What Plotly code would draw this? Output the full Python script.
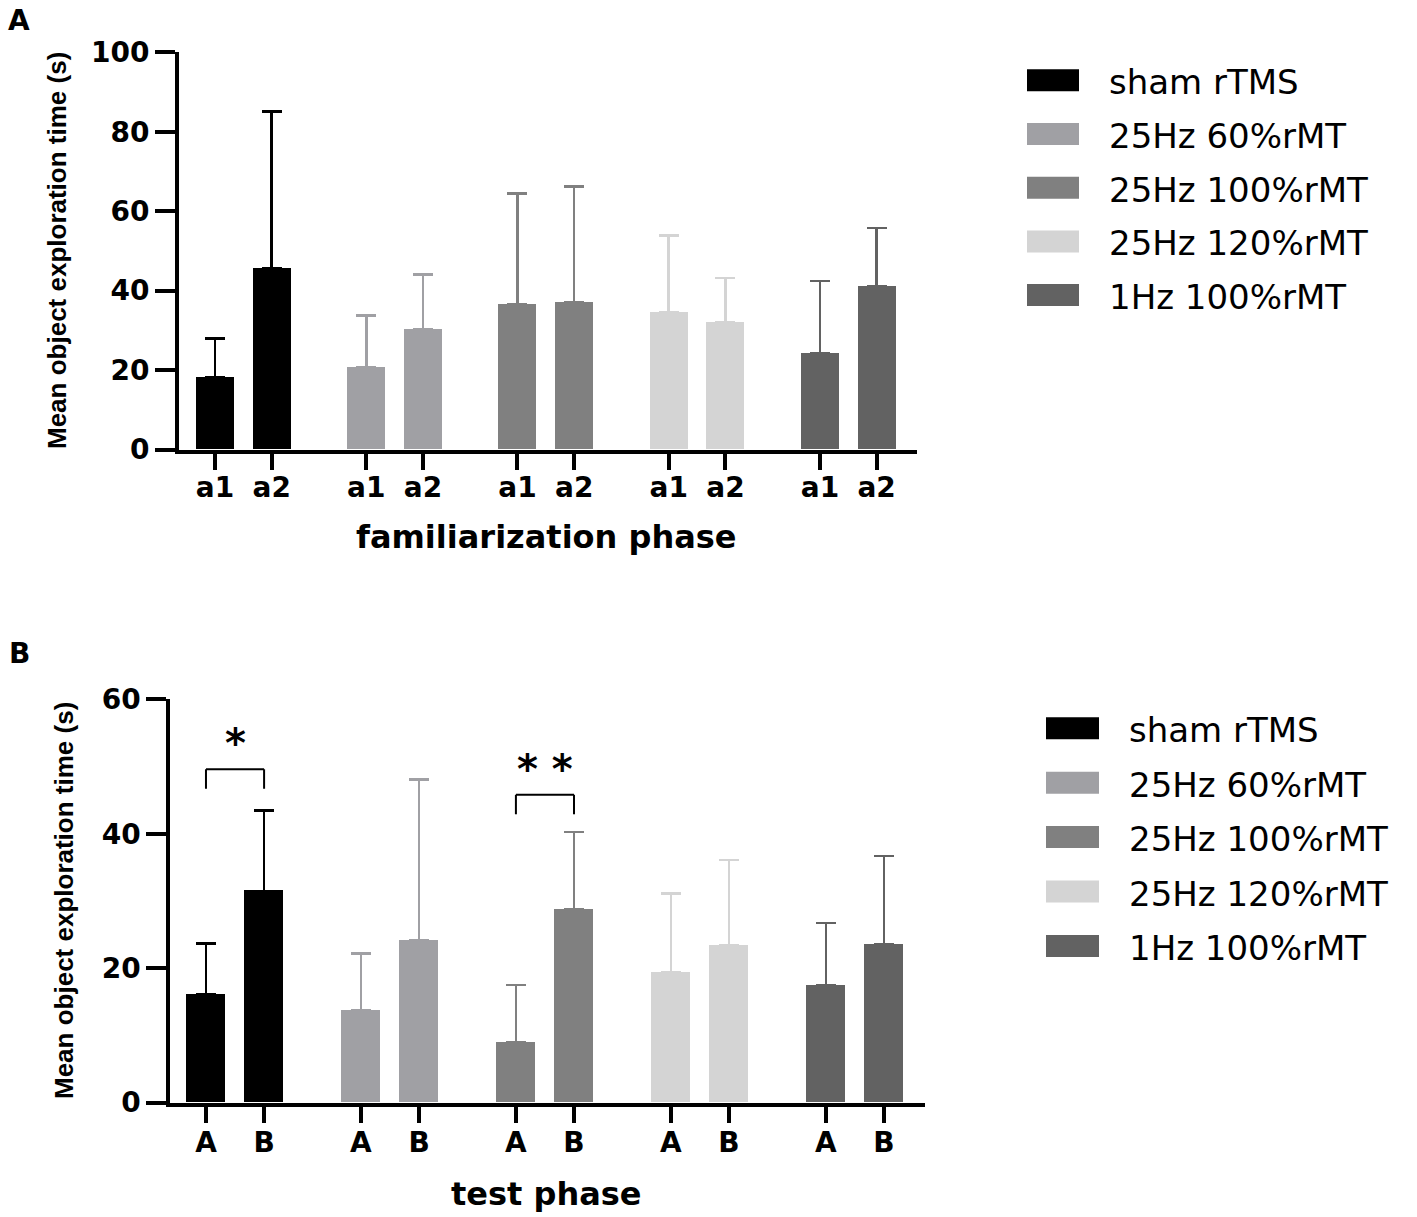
import plotly.graph_objects as go

W, H = 1417, 1217

# Data
groups = ['sham rTMS', '25Hz 60%rMT', '25Hz 100%rMT', '25Hz 120%rMT', '1Hz 100%rMT']
colors = ['#000000', '#a0a0a4', '#808080', '#d4d4d4', '#626262']

# familiarization phase (objects a1, a2) - mean and upper SD
fam_labels = ['a1', 'a2']
fam_mean = [[18.2, 45.7], [20.7, 30.2], [36.5, 37.1], [34.6, 32.0], [24.3, 41.2]]
fam_sd = [[9.7, 39.4], [13.1, 13.8], [27.9, 29.1], [19.3, 11.2], [18.1, 14.6]]

# test phase (objects A, B)
test_labels = ['A', 'B']
test_mean = [[16.1, 31.5], [13.7, 24.2], [8.9, 28.8], [19.4, 23.4], [17.4, 23.6]]
test_sd = [[7.6, 12.0], [8.5, 23.9], [8.6, 11.5], [11.7, 12.7], [9.3, 13.1]]

# significance brackets in test phase
sig_groups = [0, 2]
sig_heights = [49.6, 45.8]
sig_text = ['*', '* *']

GAP = 8 / 3  # distance between group starts, in bar slots
BOLD = 'DejaVu Sans'
REG = 'DejaVu Sans'


def px(x):
    return x / W


def py(y):
    return 1 - y / H


def slot(g, p):
    return g * GAP + p


fig = go.Figure()

panels = [
    ('x', 'y', fam_labels, fam_mean, fam_sd),
    ('x2', 'y2', test_labels, test_mean, test_sd),
]
for xa, ya, labels, means, sds in panels:
    for g, name in enumerate(groups):
        fig.add_trace(go.Bar(
            x=[slot(g, p) for p in range(len(labels))],
            y=means[g],
            width=0.67,
            name=name,
            marker=dict(color=colors[g], line=dict(width=0)),
            error_y=dict(type='data', array=sds[g], arrayminus=[0] * len(labels),
                         symmetric=False, color=colors[g], thickness=2.5, width=10),
            xaxis=xa, yaxis=ya,
            showlegend=False,
        ))

tick_pos = [slot(g, p) for g in range(len(groups)) for p in range(2)]

axis_common = dict(showline=True, linecolor='black', linewidth=4, ticks='outside',
                   tickcolor='black', tickwidth=4, showgrid=False, zeroline=False,
                   automargin=False)
tick_font = dict(family=BOLD, size=28, color='black', weight='bold')

fig.update_layout(
    width=W, height=H,
    margin=dict(l=0, r=0, t=0, b=0, autoexpand=False),
    plot_bgcolor='white', paper_bgcolor='white',
    showlegend=False,
    bargap=0,
    xaxis=dict(domain=[px(179), px(917)], range=[-0.635, 12.378], anchor='y',
               tickvals=tick_pos, ticktext=fam_labels * len(groups), ticklen=16,
               ticklabelstandoff=-6, tickfont=tick_font, **axis_common),
    yaxis=dict(domain=[py(449.5), py(52.3)], range=[0, 100], anchor='x',
               tickvals=[0, 20, 40, 60, 80, 100], ticklen=20,
               tickfont=tick_font, **axis_common),
    xaxis2=dict(domain=[px(170.3), px(925)], range=[-0.614, 12.373], anchor='y2',
                tickvals=tick_pos, ticktext=test_labels * len(groups), ticklen=16,
                ticklabelstandoff=-4, tickfont=tick_font, **axis_common),
    yaxis2=dict(domain=[py(1102.5), py(699.4)], range=[0, 60], anchor='x2',
                tickvals=[0, 20, 40, 60], ticklen=20,
                tickfont=tick_font, **axis_common),
)

# significance brackets
for g, h, t in zip(sig_groups, sig_heights, sig_text):
    x0, x1 = slot(g, 0), slot(g, 1)
    fig.add_shape(type='line', xref='x2', yref='y2', x0=x0, x1=x0, y0=h - 2.9, y1=h,
                  line=dict(color='black', width=2))
    fig.add_shape(type='line', xref='x2', yref='y2', x0=x0, x1=x1, y0=h, y1=h,
                  line=dict(color='black', width=2))
    fig.add_shape(type='line', xref='x2', yref='y2', x0=x1, x1=x1, y0=h - 2.9, y1=h,
                  line=dict(color='black', width=2))
    fig.add_annotation(x=(x0 + x1) / 2, y=h + 3.9, xref='x2', yref='y2', text=t,
                       showarrow=False, yanchor='middle',
                       font=dict(family=BOLD, size=40, color='black', weight='bold'))

# axis titles and panel letters
texts = [
    ('A', 19, 21, 0, 28, BOLD),
    ('B', 19, 653, 0, 28, BOLD),
    ('familiarization phase', 546, 537, 0, 32, BOLD),
    ('test phase', 546, 1194, 0, 32, BOLD),
    ('Mean object exploration time (s)', 57, 251, -90, 26, 'Liberation Sans'),
    ('Mean object exploration time (s)', 64, 901, -90, 26, 'Liberation Sans'),
]
for t, x, y, ang, size, fam in texts:
    fig.add_annotation(x=px(x), y=py(y), xref='paper', yref='paper', text=t,
                       showarrow=False, textangle=ang, xanchor='center', yanchor='middle',
                       font=dict(family=fam, size=size, color='black', weight='bold'))

# legends (one per panel)
legends = [(1027, 1079, 1107, 80.3, 53.7), (1046, 1099, 1127, 728.3, 54.4)]
for bx0, bx1, tx, y0, step in legends:
    for i, name in enumerate(groups):
        yc = y0 + i * step
        fig.add_shape(type='rect', xref='paper', yref='paper',
                      x0=px(bx0), x1=px(bx1), y0=py(yc + 11), y1=py(yc - 11),
                      fillcolor=colors[i], line=dict(width=0))
        fig.add_annotation(x=px(tx), y=py(yc), xref='paper', yref='paper', text=name,
                           showarrow=False, xanchor='left', yanchor='middle', yshift=-2,
                           font=dict(family=REG, size=34, color='black'))

# drop the default page margin so the figure sits at the window corner
fig.write_html('out.html', config={'displayModeBar': False},
               post_script="document.body.style.margin='0';"
                           "document.body.style.overflow='hidden';")
